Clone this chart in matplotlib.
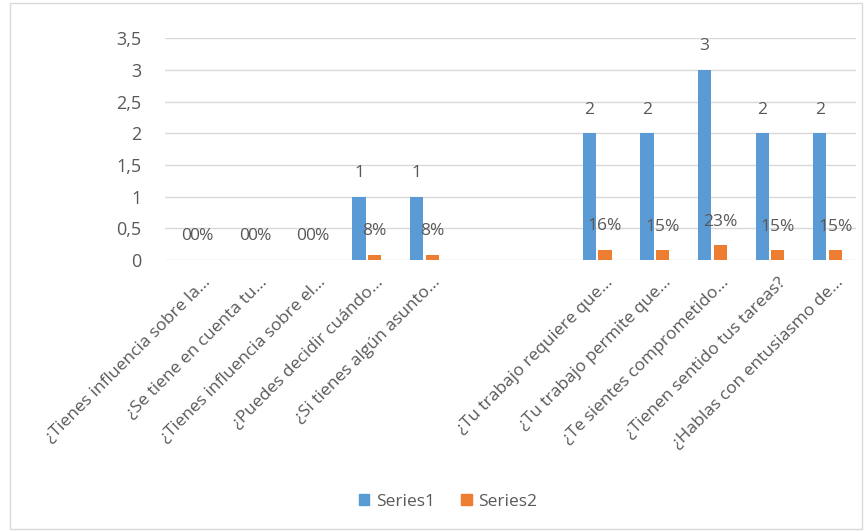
import numpy as np
import matplotlib.pyplot as plt
from matplotlib.ticker import FuncFormatter
from matplotlib.patches import Rectangle, Patch
from matplotlib.transforms import ScaledTranslation

# =====================================
# DATA
# =====================================

categories = [
    "¿Tienes influencia sobre la...",
    "¿Se tiene en cuenta tu...",
    "¿Tienes influencia sobre el...",
    "¿Puedes decidir cuándo...",
    "¿Si tienes algún asunto...",
    "",
    "",
    "¿Tu trabajo requiere que...",
    "¿Tu trabajo permite que...",
    "¿Te sientes comprometido...",
    "¿Tienen sentido tus tareas?",
    "¿Hablas con entusiasmo de...",
]
series1 = [0, 0, 0, 1, 1, None, None, 2, 2, 3, 2, 2]
series2 = [0, 0, 0, 0.08, 0.08, None, None, 0.16, 0.15, 0.23, 0.15, 0.15]

blue = "#5B9BD5"
orange = "#ED7D31"
gray = "#595959"

plt.rcParams["font.family"] = ["Open Sans", "DejaVu Sans"]

# =====================================
# CHART
# =====================================

fig = plt.figure(figsize=(8.65, 5.31), dpi=100)
ax = fig.add_axes([0.191, 0.5104, 0.799, 0.4176])

x = np.arange(len(categories))
w = 0.23
off = 0.135

for i in range(len(categories)):
    if series1[i] is not None:
        ax.bar(x[i] - off, series1[i], w, color=blue, zorder=3)
        ax.annotate(str(series1[i]), (x[i] - off, series1[i]),
                    xytext=(0, 17), textcoords="offset points",
                    ha="center", va="center", color=gray, fontsize=12.5)
    if series2[i] is not None:
        ax.bar(x[i] + off, series2[i], w, color=orange, zorder=3)
        ax.annotate(f"{int(round(series2[i] * 100))}%", (x[i] + off, series2[i]),
                    xytext=(0, 17), textcoords="offset points",
                    ha="center", va="center", color=gray, fontsize=12.5)

ax.set_xlim(-0.5, len(categories) - 0.5)
ax.set_ylim(0, 3.5)
ax.set_yticks(np.arange(0, 3.51, 0.5))
ax.yaxis.set_major_formatter(FuncFormatter(
    lambda v, p: (f"{v:g}").replace(".", ",")))
ax.grid(axis="y", color="#d9d9d9", linewidth=1, zorder=0)
ax.tick_params(axis="y", length=0, pad=17, colors=gray, labelsize=13)
ax.tick_params(axis="x", length=0, pad=6)
ax.set_xticks(x)
ax.set_xticklabels(categories, rotation=45, ha="right",
                   rotation_mode="anchor", color=gray, fontsize=12.5)
# shift the rotated labels a bit right and down, like Excel places them
shift = ScaledTranslation(8 / 100, -6 / 100, fig.dpi_scale_trans)
for lbl in ax.get_xticklabels():
    lbl.set_transform(lbl.get_transform() + shift)
for s in ax.spines.values():
    s.set_visible(False)

handles = [Patch(color=blue, label="Series1"), Patch(color=orange, label="Series2")]
fig.legend(handles=handles, loc="center", bbox_to_anchor=(0.518, 0.055), ncol=2,
           frameon=False, fontsize=12.5, labelcolor=gray, handlelength=0.6,
           handleheight=0.6, handletextpad=0.4, columnspacing=1.5)

fig.patches.append(Rectangle((0.011, 0.004), 0.985, 0.99,
                             transform=fig.transFigure, fill=False,
                             edgecolor="#d9d9d9", linewidth=1))

plt.savefig("out.png", dpi=100)
